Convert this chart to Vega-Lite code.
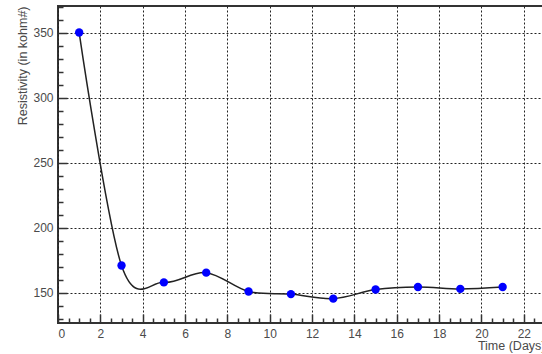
{
  "$schema": "https://vega.github.io/schema/vega-lite/v6.json",
  "autosize": {"type": "none"},
  "padding": {"left": 58, "top": 6, "right": 0, "bottom": 31},
  "width": 487,
  "height": 317,
  "background": "white",
  "view": {"stroke": "#333333", "strokeWidth": 2},
  "data": {
    "values": [
      {"t": 1, "r": 350},
      {"t": 3, "r": 171},
      {"t": 5, "r": 158},
      {"t": 7, "r": 165.5},
      {"t": 9, "r": 151},
      {"t": 11, "r": 149},
      {"t": 13, "r": 145.5},
      {"t": 15, "r": 152.5},
      {"t": 17, "r": 154.5},
      {"t": 19, "r": 153},
      {"t": 21, "r": 154.5}
    ]
  },
  "config": {
    "font": "Liberation Sans",
    "axis": {
      "labelFont": "Liberation Sans",
      "titleFont": "Liberation Sans",
      "labelColor": "#4a4a4a",
      "titleColor": "#4a4a4a",
      "labelFontSize": 12,
      "titleFontSize": 12.5,
      "titleFontWeight": "normal",
      "domain": false,
      "tickColor": "#333333",
      "tickWidth": 1.5
    }
  },
  "layer": [
    {
      "mark": {"type": "line", "interpolate": "cardinal", "tension": 0, "color": "#222222", "strokeWidth": 1.5},
      "encoding": {
        "x": {
          "field": "t", "type": "quantitative",
          "scale": {"domain": [0, 23], "nice": false, "zero": false},
          "axis": {
            "orient": "bottom",
            "title": "Time (Days)",
            "titleAnchor": "end",
            "titleAlign": "right",
            "titlePadding": 0,
            "values": [0, 2, 4, 6, 8, 10, 12, 14, 16, 18, 20, 22],
            "tickSize": -9,
            "labelPadding": 14,
            "grid": true,
            "gridColor": "#222222",
            "gridDash": [2, 2],
            "gridWidth": 1
          }
        },
        "y": {
          "field": "r", "type": "quantitative",
          "scale": {"domain": [126.8, 370.4], "nice": false, "zero": false},
          "axis": {
            "orient": "left",
            "title": "Resistivity (in kohm#)",
            "titleAnchor": "end",
            "titlePadding": 3,
            "values": [150, 200, 250, 300, 350],
            "tickSize": -9,
            "labelPadding": 14,
            "grid": true,
            "gridColor": "#222222",
            "gridDash": [2, 2],
            "gridWidth": 1
          }
        }
      }
    },
    {
      "mark": {"type": "point", "filled": true, "color": "#0000ff", "size": 70, "opacity": 1},
      "encoding": {
        "x": {
          "field": "t", "type": "quantitative",
          "scale": {"domain": [0, 23], "nice": false, "zero": false},
          "axis": {
            "orient": "bottom",
            "title": null,
            "labels": false,
            "grid": false,
            "values": [0.5, 1, 1.5, 2.5, 3, 3.5, 4.5, 5, 5.5, 6.5, 7, 7.5, 8.5, 9, 9.5, 10.5, 11, 11.5, 12.5, 13, 13.5, 14.5, 15, 15.5, 16.5, 17, 17.5, 18.5, 19, 19.5, 20.5, 21, 21.5, 22.5],
            "tickSize": -5
          }
        },
        "y": {
          "field": "r", "type": "quantitative",
          "scale": {"domain": [126.8, 370.4], "nice": false, "zero": false},
          "axis": {
            "orient": "left",
            "title": null,
            "labels": false,
            "grid": false,
            "values": [130, 140, 160, 170, 180, 190, 210, 220, 230, 240, 260, 270, 280, 290, 310, 320, 330, 340, 360, 370],
            "tickSize": -5
          }
        }
      }
    }
  ],
  "resolve": {"axis": {"x": "independent", "y": "independent"}}
}
